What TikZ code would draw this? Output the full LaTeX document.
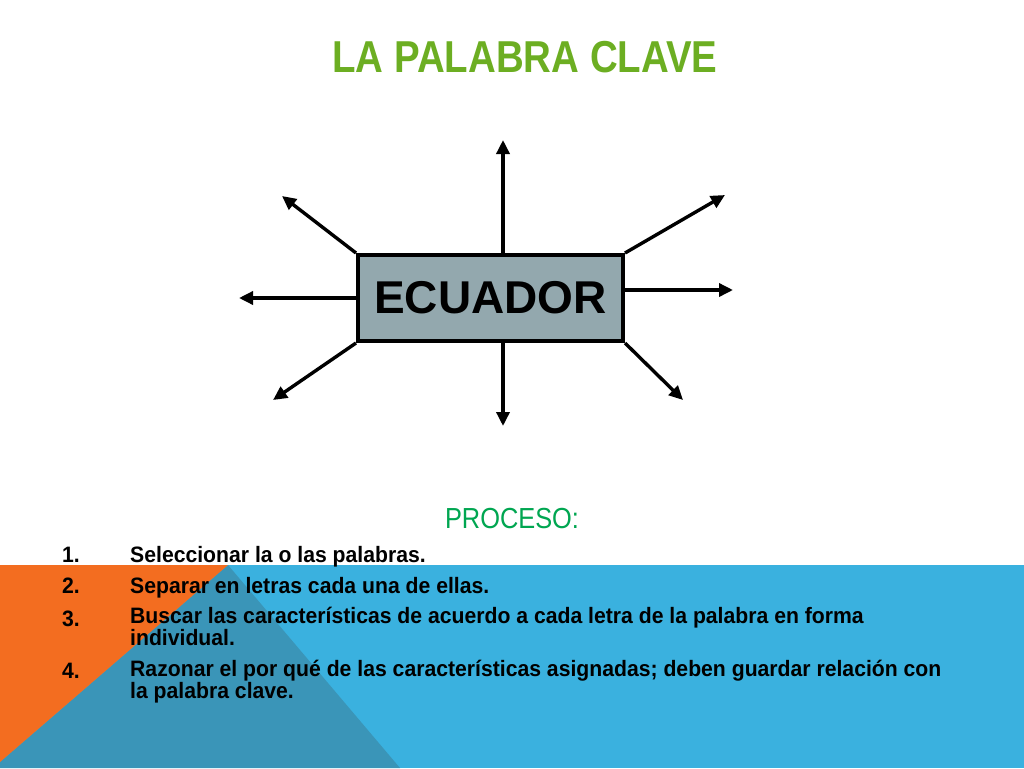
\documentclass[tikz,border=0pt]{standalone}
\usepackage{fontspec}
\setmainfont{Liberation Sans}
\newfontfamily\titlefont[FakeStretch=0.86]{Liberation Sans}
\newfontfamily\bodyfont[FakeStretch=0.95]{Liberation Sans}
\newfontfamily\procfont[FakeStretch=0.875]{Liberation Sans}
\usetikzlibrary{arrows.meta}
\definecolor{orng}{HTML}{F36D20}
\definecolor{lblue}{HTML}{3AB1DF}
\definecolor{dblue}{HTML}{3A95B8}
\definecolor{boxgrey}{HTML}{93A8AE}
\definecolor{titlegreen}{HTML}{6CAE22}
\definecolor{procgreen}{HTML}{00A651}
\begin{document}
\begin{tikzpicture}[x=1pt,y=-1pt,
  titlestyle/.style={inner sep=0pt, text=titlegreen, font=\titlefont\bfseries\fontsize{44.7}{50}\selectfont},
  keybox/.style={draw=black, line width=4pt, fill=boxgrey, minimum width=265pt, minimum height=86pt, inner sep=0pt,
     font=\bfseries\fontsize{46}{50}\selectfont},
  ray/.style={line width=3.4pt, -{Triangle[length=14pt,width=13pt]}},
  proc/.style={inner sep=0pt, text=procgreen, font=\procfont\fontsize{29}{32}\selectfont},
  itemtext/.style={inner sep=0pt, anchor=base west, font=\bodyfont\bfseries\fontsize{22.3}{19.5}\selectfont}
]
\useasboundingbox (0,0) rectangle (1024,768);
\fill[white] (0,0) rectangle (1024,768);
% background shapes
\fill[lblue] (0,565) rectangle (1024,768);
\fill[dblue] (228,565) -- (400,768) -- (0,768) -- (0,762) -- cycle;
\fill[orng] (0,565) -- (228,565) -- (0,762) -- cycle;
% title
\node[titlestyle] (ttl) at (525,57) {LA PALABRA CLAVE};
% central box
\node[keybox] (ec) at (490.5,298) {ECUADOR};
% arrow tips
\coordinate (tU) at (503,140);
\coordinate (tD) at (503,426);
\coordinate (tL) at (239,298);
\coordinate (tR) at (733,290);
\coordinate (tUL) at (282,196);
\coordinate (tUR) at (725,195);
\coordinate (tDL) at (273,400);
\coordinate (tDR) at (683,400);
\draw[ray] (tU |- ec.north) -- (tU);
\draw[ray] (tD |- ec.south) -- (tD);
\draw[ray] (ec.west) -- (tL);
\draw[ray] (ec.east |- tR) -- (tR);
\draw[ray] (ec.north west) -- (tUL);
\draw[ray] (ec.north east) -- (tUR);
\draw[ray] (ec.south west) -- (tDL);
\draw[ray] (ec.south east) -- (tDR);
% process
\node[proc] (pr) at (512,518.5) {PROCESO:};
\node[itemtext] (n1) at (62,562) {1.};
\node[itemtext] (i1) at (130,562) {Seleccionar la o las palabras.};
\node[itemtext] (n2) at (62,593) {2.};
\node[itemtext] (i2) at (130,593) {Separar en letras cada una de ellas.};
\node[itemtext] (n3) at (62,626) {3.};
\node[itemtext, align=left] (i3) at (130,645) {Buscar las características de acuerdo a cada letra de la palabra en forma\\individual.};
\node[itemtext] (n4) at (62,678) {4.};
\node[itemtext, align=left] (i4) at (130,698) {Razonar el por qué de las características asignadas; deben guardar relación con\\la palabra clave.};
\end{tikzpicture}
\end{document}
